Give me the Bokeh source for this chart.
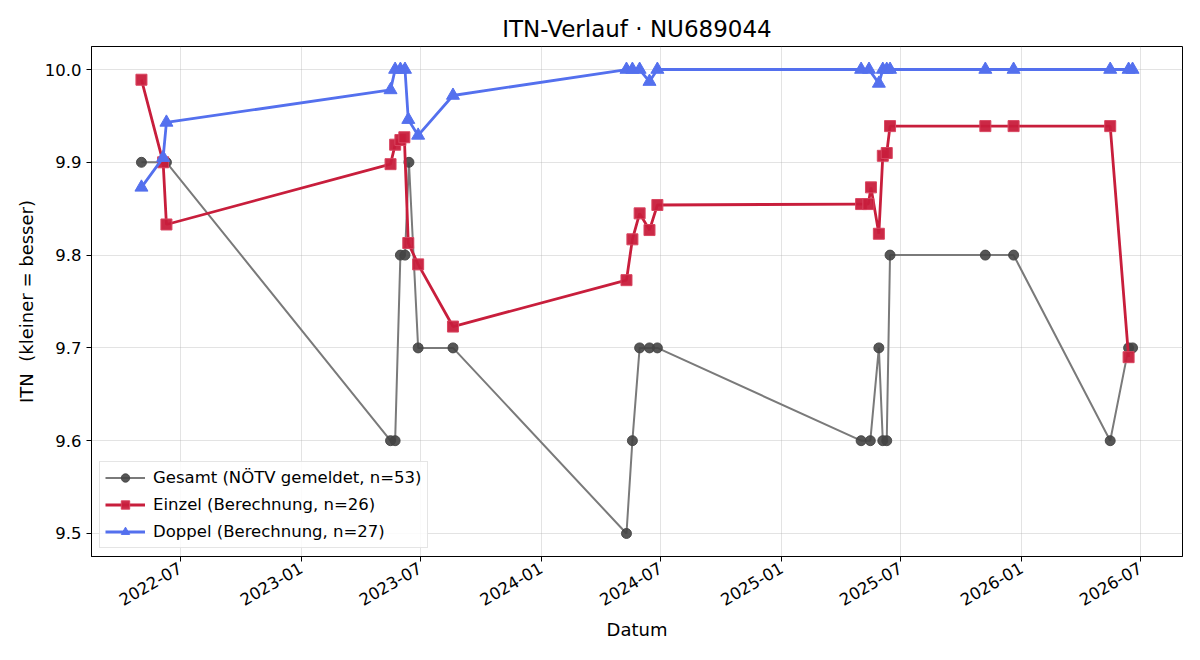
import pandas as pd
from math import pi
from bokeh.plotting import figure
from bokeh.models import Range1d, FixedTicker, DatetimeTickFormatter, NumeralTickFormatter
from bokeh.embed import file_html
from bokeh.resources import INLINE

# ---- data ----
gesamt_dates = ["2022-05-03", "2022-06-10",
                "2023-05-17", "2023-05-24", "2023-06-01", "2023-06-08", "2023-06-14", "2023-06-28", "2023-08-20",
                "2024-05-10", "2024-05-19", "2024-05-30", "2024-06-14", "2024-06-26",
                "2025-05-02", "2025-05-16", "2025-05-29", "2025-06-04", "2025-06-10", "2025-06-15",
                "2025-11-07", "2025-12-20",
                "2026-05-16", "2026-06-13", "2026-06-19"]
gesamt_vals = [9.9, 9.9,
               9.6, 9.6, 9.8, 9.8, 9.9, 9.7, 9.7,
               9.5, 9.6, 9.7, 9.7, 9.7,
               9.6, 9.6, 9.7, 9.6, 9.6, 9.8,
               9.8, 9.8,
               9.6, 9.7, 9.7]

einzel_dates = ["2022-05-03", "2022-06-05", "2022-06-10",
                "2023-05-17", "2023-05-24", "2023-06-01", "2023-06-07", "2023-06-13", "2023-06-28", "2023-08-20",
                "2024-05-10", "2024-05-19", "2024-05-30", "2024-06-14", "2024-06-26",
                "2025-05-02", "2025-05-13", "2025-05-17", "2025-05-29", "2025-06-04", "2025-06-10", "2025-06-15",
                "2025-11-07", "2025-12-20", "2026-05-16", "2026-06-13"]
einzel_vals = [9.989, 9.900, 9.833,
               9.898, 9.919, 9.924, 9.927, 9.813, 9.790, 9.723,
               9.773, 9.817, 9.845, 9.827, 9.854,
               9.855, 9.855, 9.873, 9.823, 9.907, 9.910, 9.939,
               9.939, 9.939, 9.939, 9.690]

doppel_dates = ["2022-05-03", "2022-06-05", "2022-06-10",
                "2023-05-17", "2023-05-24", "2023-06-01", "2023-06-08", "2023-06-13", "2023-06-28", "2023-08-20",
                "2024-05-10", "2024-05-19", "2024-05-30", "2024-06-14", "2024-06-26",
                "2025-05-02", "2025-05-14", "2025-05-29", "2025-06-04", "2025-06-10", "2025-06-15",
                "2025-11-07", "2025-12-20", "2026-05-16", "2026-06-13", "2026-06-19"]
doppel_vals = [9.873, 9.905, 9.943,
               9.978, 10.0, 10.0, 10.0, 9.946, 9.929, 9.972,
               10.0, 10.0, 10.0, 9.987, 10.0,
               10.0, 10.0, 9.985, 10.0, 10.0, 10.0,
               10.0, 10.0, 10.0, 10.0, 10.0]

x_tick_dates = ["2022-07-01", "2023-01-01", "2023-07-01", "2024-01-01", "2024-07-01",
                "2025-01-01", "2025-07-01", "2026-01-01", "2026-07-01"]
y_ticks = [9.5, 9.6, 9.7, 9.8, 9.9, 10.0]

FONT = "DejaVu Sans"

p = figure(width=1200, height=660, x_axis_type="datetime",
           output_backend="svg", toolbar_location=None,
           min_border_left=91, min_border_right=18, min_border_top=46, min_border_bottom=104,
           x_range=Range1d(pd.Timestamp("2022-02-16"), pd.Timestamp("2026-09-03")),
           y_range=Range1d(9.4752, 10.0248),
           title="ITN-Verlauf · NU689044")

p.title.align = "center"
p.title.text_font = FONT
p.title.text_font_size = "23px"
p.title.text_font_style = "normal"
p.title.text_color = "black"

gd = pd.to_datetime(gesamt_dates)
ed = pd.to_datetime(einzel_dates)
dd = pd.to_datetime(doppel_dates)

lg = "Gesamt (NÖTV gemeldet, n=53)"
le = "Einzel (Berechnung, n=26)"
ldp = "Doppel (Berechnung, n=27)"

p.line(gd, gesamt_vals, line_color="#7a7a7a", line_width=2, legend_label=lg)
p.scatter(gd, gesamt_vals, marker="circle", size=10, fill_color="#444444", line_color="#444444",
          fill_alpha=0.9, line_alpha=0.9, legend_label=lg)

p.line(ed, einzel_vals, line_color="#c81e3c", line_width=2.8, legend_label=le)
p.scatter(ed, einzel_vals, marker="square", size=11, fill_color="#c81e3c", line_color="#d94560",
          fill_alpha=0.95, legend_label=le)

p.line(dd, doppel_vals, line_color="#5470ee", line_width=2.8, legend_label=ldp)
p.scatter(dd, doppel_vals, marker="triangle", size=13, fill_color="#5470ee", line_color="#5470ee",
          legend_label=ldp)

# axes
p.xaxis.ticker = FixedTicker(ticks=[pd.Timestamp(d).value / 1e6 for d in x_tick_dates])
fmt = "%Y-%m"
p.xaxis.formatter = DatetimeTickFormatter(years=fmt, months=fmt, days=fmt, hours=fmt, hourmin=fmt,
                                          minutes=fmt, minsec=fmt, seconds=fmt, milliseconds=fmt,
                                          microseconds=fmt)
p.xaxis.major_label_orientation = pi / 6
p.yaxis.ticker = FixedTicker(ticks=y_ticks)
p.yaxis.formatter = NumeralTickFormatter(format="0.0")

for ax in (p.xaxis, p.yaxis):
    ax.axis_line_color = "black"
    ax.axis_line_width = 1
    ax.major_tick_line_color = "black"
    ax.major_tick_out = 5
    ax.major_tick_in = 0
    ax.minor_tick_line_color = None
    ax.major_label_text_font = FONT
    ax.major_label_text_font_size = "16.5px"
    ax.major_label_text_color = "black"
    ax.axis_label_text_font = FONT
    ax.axis_label_text_font_size = "18px"
    ax.axis_label_text_font_style = "normal"
    ax.axis_label_text_color = "black"

p.xaxis.axis_label = "Datum"
p.yaxis.axis_label = "ITN\u00a0 (kleiner = besser)"

p.outline_line_color = "black"
p.outline_line_width = 1
p.outline_line_alpha = 1

p.xgrid.grid_line_color = "#b0b0b0"
p.ygrid.grid_line_color = "#b0b0b0"
p.xgrid.grid_line_alpha = 0.35
p.ygrid.grid_line_alpha = 0.35

leg = p.legend[0]
leg.location = "bottom_left"
leg.margin = 8
leg.padding = 5
leg.spacing = 6
leg.label_height = 21
leg.glyph_height = 21
leg.glyph_width = 40
leg.label_standoff = 8
leg.label_text_font = FONT
leg.label_text_font_size = "16.5px"
leg.label_text_color = "black"
leg.border_line_color = "#cccccc"
leg.background_fill_alpha = 0.85

open("out.html", "w").write(file_html(p, INLINE))
